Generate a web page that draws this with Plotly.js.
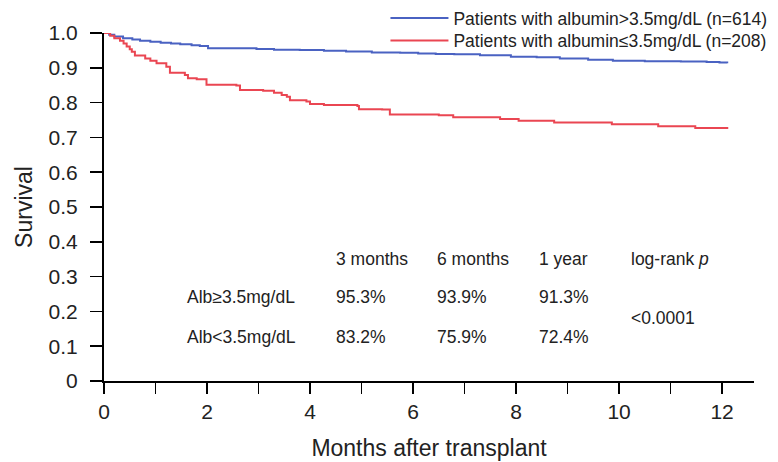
<!DOCTYPE html>
<html>
<head>
<meta charset="utf-8">
<script src="https://cdn.plot.ly/plotly-3.0.1.min.js"></script>
<style>html,body{margin:0;padding:0;background:#fff;}#chart{width:778px;height:462px;}</style>
</head>
<body>
<div id="chart"></div>
<script>
// Kaplan-Meier survival estimates
var highMonths = [0, 0.1, 0.2, 0.37, 0.55, 0.7, 0.9, 1.1, 1.3, 1.48, 1.7, 1.86, 2.02, 2.5, 2.96, 3.3, 3.8, 4.27, 4.7, 5.2, 5.75, 6.1, 6.44, 6.8, 7.3, 7.9, 8.4, 8.85, 9.4, 9.88, 10.5, 11.2, 11.7, 11.95, 12.1];
var highSurv   = [1.0, 0.995, 0.99, 0.985, 0.981, 0.978, 0.975, 0.972, 0.97, 0.968, 0.965, 0.963, 0.956, 0.956, 0.954, 0.952, 0.951, 0.949, 0.947, 0.944, 0.943, 0.941, 0.940, 0.939, 0.936, 0.932, 0.930, 0.927, 0.923, 0.920, 0.919, 0.918, 0.917, 0.915, 0.913];

var lowMonths = [0, 0.12, 0.2, 0.31, 0.38, 0.44, 0.5, 0.54, 0.60, 0.80, 0.9, 1.02, 1.21, 1.28, 1.57, 1.63, 1.80, 1.99, 2.57, 2.64, 3.09, 3.3, 3.45, 3.55, 3.61, 3.93, 4.0, 4.27, 4.92, 4.95, 5.4, 5.55, 6.5, 6.78, 7.69, 8.05, 8.74, 9.86, 10.76, 11.48, 12.12];
var lowSurv   = [1.0, 0.992, 0.985, 0.978, 0.97, 0.961, 0.953, 0.946, 0.935, 0.927, 0.92, 0.913, 0.903, 0.886, 0.879, 0.870, 0.867, 0.851, 0.849, 0.836, 0.834, 0.828, 0.822, 0.817, 0.807, 0.803, 0.796, 0.793, 0.790, 0.781, 0.780, 0.766, 0.764, 0.758, 0.753, 0.748, 0.743, 0.738, 0.732, 0.727, 0.727];

var seriesNames = ['Patients with albumin>3.5mg/dL (n=614)', 'Patients with albumin\u22643.5mg/dL (n=208)'];

var xTickVals = [0,1,2,3,4,5,6,7,8,9,10,11,12];
var xTickText = ['0','','2','','4','','6','','8','','10','','12'];
var yTickVals = [0,0.1,0.2,0.3,0.4,0.5,0.6,0.7,0.8,0.9,1.0];
var yTickText = ['0','0.1','0.2','0.3','0.4','0.5','0.6','0.7','0.8','0.9','1.0'];

// summary table
var tableHeader = ['3 months', '6 months', '1 year', 'log-rank <i>p</i>'];
var rowLabels = ['Alb\u22653.5mg/dL', 'Alb<3.5mg/dL'];
var rowHigh = ['95.3%', '93.9%', '91.3%'];
var rowLow = ['83.2%', '75.9%', '72.4%'];
var pValue = '<0.0001';

var font = 'Liberation Sans, Arial, sans-serif';
var traces = [
  {x: highMonths, y: highSurv, name: seriesNames[0], legend: 'legend', mode: 'lines', line: {shape: 'hv', color: '#4a62c2', width: 2}},
  {x: lowMonths, y: lowSurv, name: seriesNames[1], legend: 'legend2', mode: 'lines', line: {shape: 'hv', color: '#ea4652', width: 2}}
];

// table positions in data coordinates
var colX = [4.47, 6.43, 8.41, 10.2];
var labelX = 1.57;
var headerY = 0.351, row1Y = 0.241, row2Y = 0.126, pY = 0.181;
var ann = [];
var tf = {family: font, size: 17.5, color: '#222'};
tableHeader.forEach(function(t, i){ ann.push({x: colX[i], y: headerY, text: t, xanchor: 'left', yanchor: 'middle', showarrow: false, font: tf}); });
ann.push({x: labelX, y: row1Y, text: rowLabels[0], xanchor: 'left', yanchor: 'middle', showarrow: false, font: tf});
ann.push({x: labelX, y: row2Y, text: rowLabels[1], xanchor: 'left', yanchor: 'middle', showarrow: false, font: tf});
rowHigh.forEach(function(t, i){ ann.push({x: colX[i], y: row1Y, text: t, xanchor: 'left', yanchor: 'middle', showarrow: false, font: tf}); });
rowLow.forEach(function(t, i){ ann.push({x: colX[i], y: row2Y, text: t, xanchor: 'left', yanchor: 'middle', showarrow: false, font: tf}); });
ann.push({x: colX[3], y: pY, text: pValue, xanchor: 'left', yanchor: 'middle', showarrow: false, font: tf});

var legendStyle = function(yPos){
  return {x: 0.433, xanchor: 'left', yref: 'container', y: yPos, yanchor: 'top', font: {family: font, size: 17.5, color: '#222'}, bgcolor: 'rgba(0,0,0,0)', itemwidth: 58};
};

var layout = {
  width: 778, height: 462,
  margin: {l: 104, r: 24, t: 33, b: 81, autoexpand: false},
  paper_bgcolor: '#fff', plot_bgcolor: '#fff',
  font: {family: font, color: '#222'},
  showlegend: true,
  legend: legendStyle(1.0),
  legend2: legendStyle(0.951),
  xaxis: {range: [0, 12.62], tickvals: xTickVals, ticktext: xTickText, ticks: 'outside', ticklen: 11, tickwidth: 1.5, tickcolor: '#000',
          showline: true, linecolor: '#000', linewidth: 2, showgrid: false, zeroline: false,
          tickfont: {family: font, size: 21, color: '#222'}, ticklabelstandoff: 0,
          title: {text: 'Months after transplant', font: {family: font, size: 23, color: '#222'}, standoff: 18}},
  yaxis: {range: [0, 1.0], tickvals: yTickVals, ticktext: yTickText, ticks: 'outside', ticklen: 12, tickwidth: 1.5, tickcolor: '#000',
          showline: true, linecolor: '#000', linewidth: 2, showgrid: false, zeroline: false,
          tickfont: {family: font, size: 21, color: '#222'}, ticklabelstandoff: 8,
          title: {text: 'Survival', font: {family: font, size: 23, color: '#222'}, standoff: 10}},
  annotations: ann
};
Plotly.newPlot('chart', traces, layout, {displayModeBar: false, staticPlot: true});
</script>
</body>
</html>
